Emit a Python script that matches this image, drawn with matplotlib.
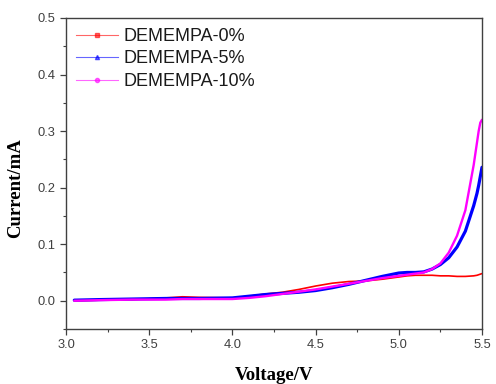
import matplotlib
matplotlib.use("Agg")
import matplotlib.pyplot as plt
from matplotlib.lines import Line2D
from matplotlib.ticker import MultipleLocator

voltage = [3.05, 3.2, 3.4, 3.6, 3.7, 3.8, 4.0, 4.1, 4.2, 4.3, 4.4, 4.5, 4.6, 4.7,
           4.8, 4.9, 5.0, 5.05, 5.1, 5.15, 5.2, 5.25, 5.3, 5.35, 5.4, 5.45, 5.47,
           5.48, 5.49, 5.5]

cur_0 = [0.000, 0.001, 0.002, 0.005, 0.007, 0.006, 0.005, 0.008, 0.012, 0.015,
         0.020, 0.026, 0.031, 0.034, 0.035, 0.038, 0.042, 0.044, 0.045, 0.045,
         0.045, 0.044, 0.044, 0.043, 0.043, 0.044, 0.045, 0.046, 0.047, 0.048]

cur_5 = [0.001, 0.002, 0.003, 0.004, 0.004, 0.004, 0.005, 0.008, 0.011, 0.013,
         0.015, 0.018, 0.023, 0.029, 0.036, 0.043, 0.049, 0.050, 0.050, 0.051,
         0.056, 0.064, 0.076, 0.095, 0.123, 0.168, 0.190, 0.204, 0.220, 0.236]

cur_10 = [0.000, 0.001, 0.002, 0.002, 0.003, 0.003, 0.003, 0.005, 0.008, 0.012,
          0.016, 0.020, 0.025, 0.030, 0.035, 0.040, 0.044, 0.046, 0.048, 0.050,
          0.056, 0.066, 0.085, 0.115, 0.160, 0.240, 0.280, 0.300, 0.315, 0.320]

labels = ["DEMEMPA-0%", "DEMEMPA-5%", "DEMEMPA-10%"]
colors = ["#ff0000", "#0000ff", "#ff00ff"]
markers = ["s", "^", "o"]
widths = [1.2, 2.3, 1.7]

fig = plt.figure(figsize=(4.96, 3.84), dpi=100)
ax = fig.add_axes([66/496, 1-329/384, 416/496, 311/384])

for y, c, lw in zip([cur_0, cur_5, cur_10], colors, widths):
    ax.plot(voltage, y, color=c, lw=lw, solid_capstyle="round")

ax.set_xlim(3.0, 5.5)
ax.set_ylim(-0.05, 0.5)
ax.xaxis.set_major_locator(MultipleLocator(0.5))
ax.xaxis.set_minor_locator(MultipleLocator(0.25))
ax.yaxis.set_major_locator(MultipleLocator(0.1))
ax.yaxis.set_minor_locator(MultipleLocator(0.05))
ax.tick_params(which="both", direction="out", color="#404040", labelcolor="#404040",
               labelsize=9.3, top=False, right=False)
ax.tick_params(which="major", length=4, width=0.9)
ax.tick_params(which="minor", length=2.5, width=0.8)
for lab in ax.get_xticklabels() + ax.get_yticklabels():
    lab.set_family("Liberation Sans")
for s in ax.spines.values():
    s.set_color("#404040")
    s.set_linewidth(1.0)

ax.set_xlabel("Voltage/V", family="Liberation Serif", fontweight="bold", fontsize=13.5)
ax.set_ylabel("Current/mA", family="Liberation Serif", fontweight="bold", fontsize=13.5)
ax.xaxis.set_label_coords(0.5, -0.122)
ax.yaxis.set_label_coords(-0.101, 0.453)

handles = [Line2D([], [], color=c, lw=0.8, marker=m, markersize=3)
           for c, m in zip(colors, markers)]
leg = ax.legend(handles, labels, loc="upper left", bbox_to_anchor=(10/416, 1-10/311),
                frameon=False, borderpad=0, borderaxespad=0, handlelength=2.33,
                handletextpad=0.3, labelspacing=0.3, numpoints=1,
                prop={"family": "Liberation Sans", "size": 13})
for line in leg.get_lines():
    line.set_alpha(0.6)
for t in leg.get_texts():
    t.set_color("#1a1a1a")

fig.savefig("out.png", dpi=100)
